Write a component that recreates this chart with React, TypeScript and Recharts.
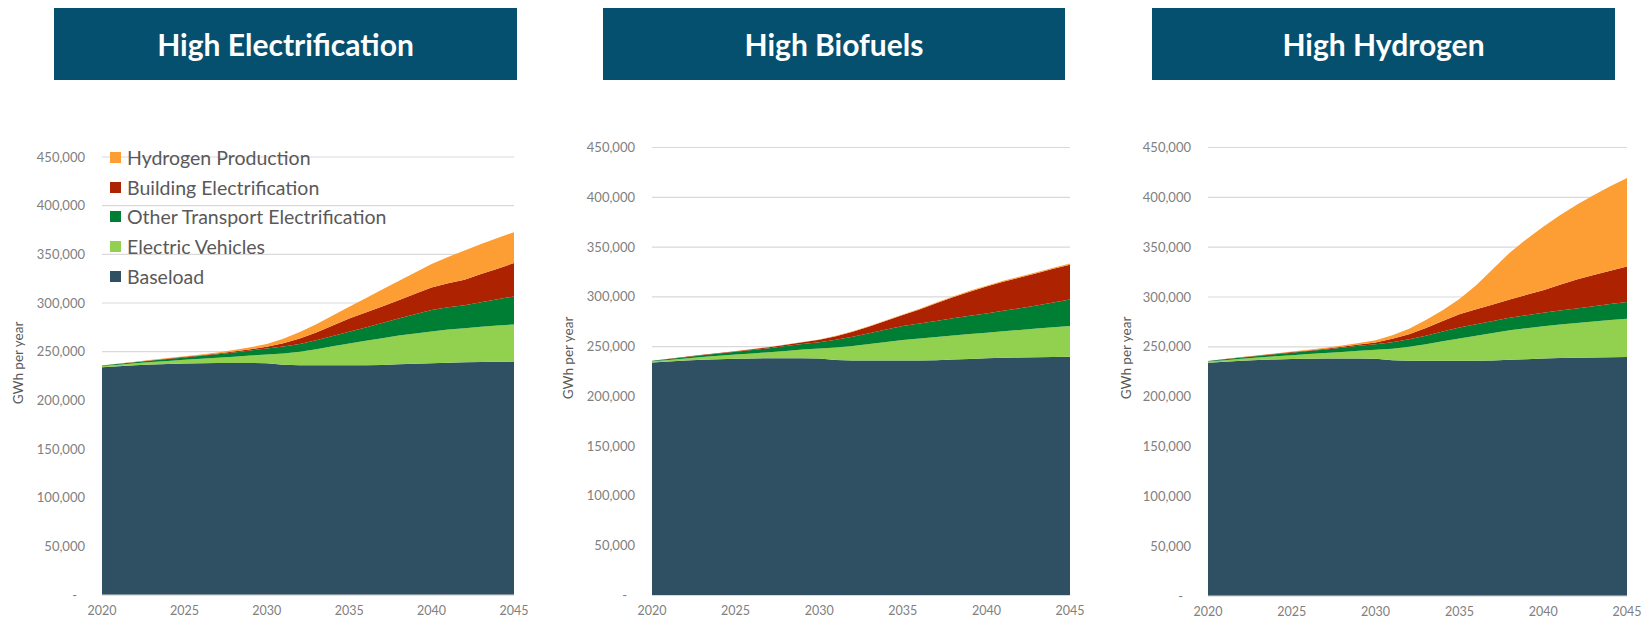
import { AreaChart, Area, XAxis, YAxis, CartesianGrid } from "recharts";

const FONT = "Lato, 'Open Sans', sans-serif";

const YEARS = [
  2020, 2021, 2022, 2023, 2024, 2025, 2026, 2027, 2028, 2029, 2030, 2031, 2032,
  2033, 2034, 2035, 2036, 2037, 2038, 2039, 2040, 2041, 2042, 2043, 2044, 2045,
];
const X_TICKS = [2020, 2025, 2030, 2035, 2040, 2045];
const Y_TICKS = [0, 50000, 100000, 150000, 200000, 250000, 300000, 350000, 400000, 450000];

// thousand GWh per year, each layer on its own (stacked in the chart)
const BASELOAD = [
  234.0, 235.0, 236.0, 236.8, 237.4, 237.8, 238.1, 238.3, 238.4, 238.4, 238.0, 236.6, 236.1,
  236.0, 236.0, 236.0, 236.1, 236.4, 237.0, 237.6, 238.2, 238.7, 239.0, 239.3, 239.6, 239.8,
];

// High Electrification
const HE_EV = [
  1.2, 1.6, 2.0, 2.5, 3.1, 3.8, 4.6, 5.5, 6.5, 7.6, 9.0, 11.5, 13.8,
  16.5, 19.5, 22.5, 25.0, 27.5, 29.5, 31.0, 32.5, 34.0, 35.0, 36.2, 37.2, 38.2,
];
const HE_OTHER = [
  0.6, 0.9, 1.2, 1.6, 2.0, 2.5, 3.0, 3.6, 4.3, 5.2, 6.2, 7.1, 8.0,
  9.2, 10.6, 12.0, 13.8, 15.6, 17.5, 19.8, 22.0, 22.9, 23.7, 25.3, 27.0, 28.8,
];
const HE_BUILDING = [
  0.1, 0.2, 0.3, 0.4, 0.5, 0.6, 0.7, 0.8, 1.0, 1.3, 1.8, 3.5, 5.6,
  8.0, 10.7, 13.5, 15.3, 17.0, 18.7, 21.0, 23.2, 24.8, 26.3, 28.9, 31.5, 34.2,
];
const HE_HYDROGEN = [
  0.0, 0.1, 0.2, 0.3, 0.4, 0.5, 0.7, 1.0, 1.4, 2.0, 2.8, 4.6, 6.6,
  8.5, 10.3, 12.2, 14.7, 17.3, 19.8, 22.0, 24.2, 26.9, 30.0, 30.8, 31.4, 31.8,
];

// High Biofuels
const HB_EV = [
  1.2, 1.6, 2.1, 2.7, 3.4, 4.2, 5.1, 6.1, 7.3, 8.6, 10.0, 12.6, 14.6,
  16.7, 18.7, 20.7, 22.0, 23.2, 24.2, 25.0, 25.8, 26.8, 27.7, 28.8, 29.9, 31.0,
];
const HB_OTHER = [
  0.6, 0.9, 1.3, 1.8, 2.3, 2.8, 3.4, 4.0, 4.8, 5.6, 6.5, 7.8, 9.3,
  10.8, 12.4, 14.0, 15.0, 16.2, 17.4, 18.4, 19.3, 20.5, 21.8, 23.3, 24.9, 26.5,
];
const HB_BUILDING = [
  0.1, 0.2, 0.3, 0.4, 0.5, 0.6, 0.8, 1.0, 1.3, 1.7, 2.3, 3.5, 5.0,
  6.8, 8.8, 11.0, 14.3, 17.7, 21.0, 24.2, 27.0, 29.2, 31.0, 32.4, 33.8, 35.0,
];
const HB_HYDROGEN = [
  0.0, 0.0, 0.1, 0.1, 0.1, 0.2, 0.2, 0.2, 0.3, 0.3, 0.3, 0.4, 0.4,
  0.5, 0.5, 0.6, 0.6, 0.7, 0.7, 0.8, 0.8, 0.9, 0.9, 1.0, 1.0, 1.1,
];

// High Hydrogen
const HH_EV = [
  1.2, 1.6, 2.0, 2.5, 3.1, 3.8, 4.6, 5.5, 6.5, 7.7, 9.1, 11.6, 14.0,
  16.6, 19.5, 22.4, 25.0, 27.5, 29.6, 31.1, 32.4, 33.8, 35.0, 36.2, 37.3, 38.5,
];
const HH_OTHER = [
  0.6, 0.9, 1.2, 1.6, 2.0, 2.5, 3.0, 3.6, 4.2, 4.9, 5.6, 6.5, 7.5,
  8.6, 9.8, 11.0, 11.5, 12.0, 12.5, 13.0, 13.5, 14.0, 14.5, 15.3, 16.0, 16.7,
];
const HH_BUILDING = [
  0.1, 0.2, 0.3, 0.4, 0.5, 0.6, 0.7, 0.8, 1.0, 1.3, 1.7, 3.3, 5.0,
  7.8, 10.6, 13.4, 15.0, 16.7, 18.3, 20.5, 22.7, 25.8, 29.0, 31.2, 33.4, 35.6,
];
const HH_HYDROGEN = [
  0.0, 0.1, 0.2, 0.3, 0.4, 0.5, 0.7, 0.9, 1.2, 1.6, 2.2, 3.5, 5.6,
  7.9, 10.9, 15.2, 24.1, 35.4, 47.1, 55.8, 63.7, 69.7, 75.0, 80.0, 84.7, 88.9,
];

const SERIES = [
  { key: "baseload", name: "Baseload", color: "#2f5062" },
  { key: "ev", name: "Electric Vehicles", color: "#92d050" },
  { key: "other", name: "Other Transport Electrification", color: "#007e33" },
  { key: "building", name: "Building Electrification", color: "#ad2200" },
  { key: "hydrogen", name: "Hydrogen Production", color: "#fd9e34" },
];

const buildRows = (ev: number[], other: number[], building: number[], hydrogen: number[]) =>
  YEARS.map((year, i) => ({
    year,
    baseload: BASELOAD[i] * 1000,
    ev: ev[i] * 1000,
    other: other[i] * 1000,
    building: building[i] * 1000,
    hydrogen: hydrogen[i] * 1000,
  }));

const PANELS = [
  {
    title: "High Electrification",
    rows: buildRows(HE_EV, HE_OTHER, HE_BUILDING, HE_HYDROGEN),
    box: { left: 54, width: 463 },
    plot: { left: 102, right: 514, top: 157, bottom: 595 },
    axisTitle: { x: 18, y: 363 },
    legend: true,
  },
  {
    title: "High Biofuels",
    rows: buildRows(HB_EV, HB_OTHER, HB_BUILDING, HB_HYDROGEN),
    box: { left: 603, width: 462 },
    plot: { left: 652, right: 1070, top: 147.5, bottom: 595.5 },
    axisTitle: { x: 568, y: 358 },
    legend: false,
  },
  {
    title: "High Hydrogen",
    rows: buildRows(HH_EV, HH_OTHER, HH_BUILDING, HH_HYDROGEN),
    box: { left: 1152, width: 463 },
    plot: { left: 1207.5, right: 1626.5, top: 147.5, bottom: 596 },
    axisTitle: { x: 1126, y: 358 },
    legend: false,
  },
];

const Y_AXIS_W = 70;
const LEFT_PAD = 32;
const RIGHT_PAD = 20;
const X_AXIS_H = 24;

function YTick(props: any) {
  const { x, y, payload } = props;
  const zero = payload.value === 0;
  return (
    <text
      x={x}
      y={y}
      dx={zero ? -8 : 0}
      dy={4.5}
      textAnchor="end"
      fill="#808080"
      fontSize={13}
      fontFamily={FONT}
    >
      {zero ? "-" : payload.value.toLocaleString("en-US")}
    </text>
  );
}

function Panel({ p }: { p: (typeof PANELS)[number] }) {
  const chartLeft = p.plot.left - Y_AXIS_W - LEFT_PAD;
  const width = p.plot.right - chartLeft + RIGHT_PAD;
  const height = p.plot.bottom + X_AXIS_H;
  return (
    <>
      <div
        style={{
          position: "absolute",
          left: p.box.left,
          top: 8,
          width: p.box.width,
          height: 72,
          background: "#054f6f",
          color: "#fff",
          display: "flex",
          alignItems: "center",
          justifyContent: "center",
          fontFamily: FONT,
          fontWeight: 700,
          fontSize: 30,
        }}
      >
        {p.title}
      </div>
      <div style={{ position: "absolute", left: chartLeft, top: 0 }}>
        <AreaChart
          width={width}
          height={height}
          data={p.rows}
          margin={{ top: p.plot.top, right: RIGHT_PAD, left: LEFT_PAD, bottom: 0 }}
        >
          <CartesianGrid vertical={false} stroke="#d9d9d9" strokeWidth={1.2} />
          <XAxis
            dataKey="year"
            type="number"
            domain={[2020, 2045]}
            ticks={X_TICKS}
            height={X_AXIS_H}
            tickSize={0}
            tickMargin={11}
            axisLine={{ stroke: "#d9d9d9" }}
            tick={{ fill: "#808080", fontSize: 12.5, fontFamily: FONT }}
          />
          <YAxis
            domain={[0, 450000]}
            ticks={Y_TICKS}
            width={Y_AXIS_W}
            tickSize={0}
            tickMargin={17}
            axisLine={false}
            tick={<YTick />}
          />
          {SERIES.map((s) => (
            <Area
              key={s.key}
              type="linear"
              dataKey={s.key}
              name={s.name}
              stackId="a"
              stroke="none"
              fill={s.color}
              fillOpacity={1}
              dot={false}
              activeDot={false}
              isAnimationActive={false}
            />
          ))}
        </AreaChart>
      </div>
      <div
        style={{
          position: "absolute",
          left: p.axisTitle.x,
          top: p.axisTitle.y,
          transform: "translate(-50%, -50%) rotate(-90deg)",
          whiteSpace: "nowrap",
          fontFamily: FONT,
          fontSize: 13.5,
          color: "#595959",
        }}
      >
        GWh per year
      </div>
      {p.legend && (
        <div style={{ position: "absolute", left: 110, top: 143 }}>
          {[...SERIES].reverse().map((s) => (
            <div
              key={s.key}
              style={{ display: "flex", alignItems: "center", height: 29.6 }}
            >
              <span
                style={{ width: 11, height: 11, background: s.color, display: "inline-block" }}
              />
              <span
                style={{
                  marginLeft: 6,
                  fontFamily: FONT,
                  fontSize: 19.5,
                  color: "#595959",
                  whiteSpace: "nowrap",
                }}
              >
                {s.name}
              </span>
            </div>
          ))}
        </div>
      )}
    </>
  );
}

export default function App() {
  return (
    <div
      style={{
        position: "absolute",
        left: 0,
        top: 0,
        width: 1650,
        height: 619,
        overflow: "hidden",
        background: "#fff",
      }}
    >
      {PANELS.map((p) => (
        <Panel key={p.title} p={p} />
      ))}
    </div>
  );
}
